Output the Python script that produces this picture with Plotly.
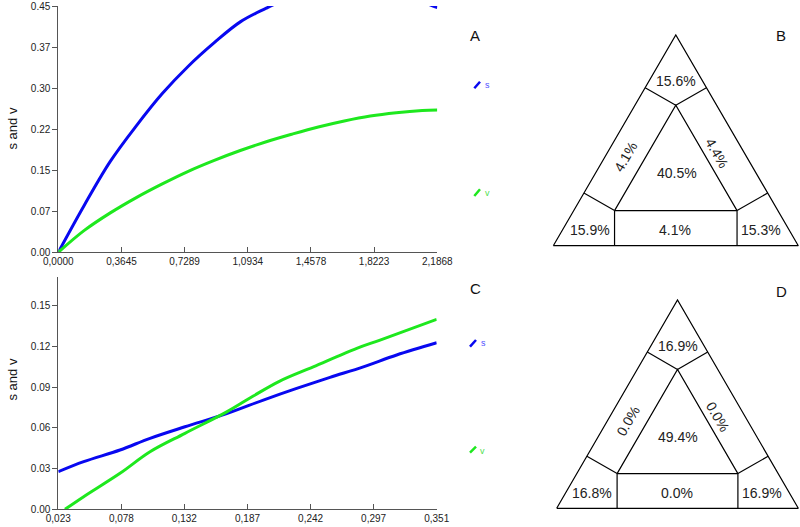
import plotly.graph_objects as go

# ---------------- data ----------------
# Panel A
a_s_x = [0, 0.15, 0.30, 0.45, 0.60, 0.75, 0.90, 1.05, 1.20, 1.35, 1.50, 1.65, 1.80, 1.95, 2.10, 2.1868]
a_s_y = [0, 0.086, 0.166, 0.231, 0.290, 0.340, 0.383, 0.421, 0.446, 0.468, 0.484, 0.493, 0.493, 0.482, 0.458, 0.447]
a_v_x = [0, 0.15, 0.30, 0.45, 0.60, 0.75, 0.90, 1.05, 1.20, 1.35, 1.50, 1.65, 1.80, 1.95, 2.10, 2.1868]
a_v_y = [0, 0.040, 0.072, 0.100, 0.125, 0.148, 0.168, 0.186, 0.202, 0.216, 0.229, 0.240, 0.249, 0.255, 0.259, 0.260]
a_xtick_vals = [0, 0.3645, 0.7289, 1.0934, 1.4578, 1.8223, 2.1868]
a_xtick_text = ["0,0000", "0,3645", "0,7289", "1,0934", "1,4578", "1,8223", "2,1868"]
a_ytick_vals = [0, 0.075, 0.15, 0.225, 0.30, 0.375, 0.45]
a_ytick_text = ["0.00", "0.07", "0.15", "0.22", "0.30", "0.37", "0.45"]

# Panel C
c_s_x = [0.023, 0.045, 0.0765, 0.1025, 0.1328, 0.169, 0.2007, 0.2296, 0.2585, 0.2874, 0.3163, 0.351]
c_s_y = [0.0277, 0.0351, 0.0437, 0.0523, 0.0608, 0.0705, 0.0805, 0.0891, 0.0972, 0.1050, 0.1137, 0.1227]
c_v_x = [0.0288, 0.045, 0.0765, 0.1025, 0.1328, 0.169, 0.192, 0.215, 0.244, 0.2817, 0.3019, 0.351]
c_v_y = [0.0, 0.0093, 0.0265, 0.0424, 0.0560, 0.0718, 0.0835, 0.0945, 0.1050, 0.1186, 0.1247, 0.1400]
c_xtick_vals = [0.023, 0.0777, 0.1323, 0.187, 0.2417, 0.2963, 0.351]
c_xtick_text = ["0,023", "0,078", "0,132", "0,187", "0,242", "0,297", "0,351"]
c_ytick_vals = [0, 0.03, 0.06, 0.09, 0.12, 0.15]
c_ytick_text = ["0.00", "0.03", "0.06", "0.09", "0.12", "0.15"]

# Triangle percentages: top, left side, right side, centre, bottom-left, bottom, bottom-right
b_pct = [15.6, 4.1, 4.4, 40.5, 15.9, 4.1, 15.3]
d_pct = [16.9, 0.0, 0.0, 49.4, 16.8, 0.0, 16.9]

# ---------------- styling / layout helpers ----------------
W, H = 800, 527
FONT = "Liberation Sans, Arial, sans-serif"
BLUE = "#0808f0"
GREEN = "#1ee81e"
AXC = "#555555"
TICKC = "#222222"


def fx(px):
    return px / W


def fy(py):
    return 1 - py / H


fig = go.Figure()

# Panel A traces
fig.add_trace(go.Scatter(x=a_s_x, y=a_s_y, mode="lines", line=dict(color=BLUE, width=3, shape="spline"),
                         xaxis="x", yaxis="y", showlegend=False, hoverinfo="skip"))
fig.add_trace(go.Scatter(x=a_v_x, y=a_v_y, mode="lines", line=dict(color=GREEN, width=3, shape="spline"),
                         xaxis="x", yaxis="y", showlegend=False, hoverinfo="skip"))
# Panel C traces
fig.add_trace(go.Scatter(x=c_s_x, y=c_s_y, mode="lines", line=dict(color=BLUE, width=3, shape="spline"),
                         xaxis="x2", yaxis="y2", showlegend=False, hoverinfo="skip"))
fig.add_trace(go.Scatter(x=c_v_x, y=c_v_y, mode="lines", line=dict(color=GREEN, width=3, shape="spline"),
                         xaxis="x2", yaxis="y2", showlegend=False, hoverinfo="skip"))

# Triangle geometry in normalised units (outer triangle base 0..1, apex height 1)
outer = [(0, 0), (1, 0), (0.5, 1)]
inner = [(0.25, 1 / 6), (0.75, 1 / 6), (0.5, 2 / 3)]
connectors = [
    (inner[2], (0.375, 0.75)), (inner[2], (0.625, 0.75)),
    (inner[0], (0.125, 0.25)), (inner[1], (0.875, 0.25)),
    (inner[0], (0.25, 0)), (inner[1], (0.75, 0)),
]
label_pos = [(0.5, 0.78), (0.295, 0.42), (0.668, 0.44), (0.503, 0.343),
             (0.148, 0.073), (0.497, 0.073), (0.848, 0.073)]
label_angle = [0, -60, 60, 0, 0, 0, 0]


def tri_segments():
    xs, ys = [], []
    for poly in (outer, inner):
        for p in poly + [poly[0]]:
            xs.append(p[0]); ys.append(p[1])
        xs.append(None); ys.append(None)
    for a, b in connectors:
        xs += [a[0], b[0], None]
        ys += [a[1], b[1], None]
    return xs, ys


tx, ty = tri_segments()
annotations = []
for ax_id, pct in (("3", b_pct), ("4", d_pct)):
    fig.add_trace(go.Scatter(x=tx, y=ty, mode="lines", line=dict(color="black", width=1.2),
                             xaxis="x" + ax_id, yaxis="y" + ax_id, showlegend=False, hoverinfo="skip"))
    for (lx, ly), ang, v in zip(label_pos, label_angle, pct):
        annotations.append(dict(x=lx, y=ly, xref="x" + ax_id, yref="y" + ax_id, text=f"{v:.1f}%",
                                showarrow=False, textangle=ang,
                                font=dict(family=FONT, size=14, color="#222222")))

# Pixel boxes of each panel
boxA = dict(x0=58.3, x1=437.3, y0=6, y1=252.3)
boxC = dict(x0=58.3, x1=436.7, y0=276.7, y1=509.3)
boxB = dict(x0=553.3, x1=798.3, y0=35, y1=245.7)
boxD = dict(x0=556.7, x1=798.3, y0=300, y1=508.3)
PADPX = 1.5  # pixels of padding around triangle boxes, so outline is not clipped


def dom_x(b):
    return [fx(b["x0"]), fx(b["x1"])]


def dom_y(b):
    return [fy(b["y1"]), fy(b["y0"])]


def tri_axes(b):
    """Hidden axes whose unit box [0,1]x[0,1] maps onto pixel box b, padded a little."""
    px0 = max(0.0, b["x0"] - PADPX); px1 = min(W, b["x1"] + PADPX)
    py0 = max(0.0, b["y0"] - PADPX); py1 = min(H, b["y1"] + PADPX)
    w = b["x1"] - b["x0"]; h = b["y1"] - b["y0"]
    xr = [(px0 - b["x0"]) / w, (px1 - b["x0"]) / w]
    yr = [(b["y1"] - py1) / h, (b["y1"] - py0) / h]
    xa = dict(visible=False, fixedrange=True, automargin=False, domain=[fx(px0), fx(px1)], range=xr)
    ya = dict(visible=False, fixedrange=True, automargin=False, domain=[fy(py1), fy(py0)], range=yr)
    return xa, ya


tickfont = dict(family=FONT, size=10, color=TICKC)
common_x = dict(showgrid=False, zeroline=False, showline=True, linecolor=AXC, linewidth=1,
                ticks="inside", ticklen=5, tickcolor=AXC, tickfont=tickfont, fixedrange=True,
                automargin=False)
common_y = dict(showgrid=False, zeroline=False, showline=True, linecolor=AXC, linewidth=1,
                ticks="outside", ticklen=5, tickcolor=AXC, tickfont=tickfont, fixedrange=True,
                automargin=False)

x3, y3 = tri_axes(boxB)
x4, y4 = tri_axes(boxD)

fig.update_layout(
    width=W, height=H,
    margin=dict(l=0, r=0, t=0, b=0, autoexpand=False),
    paper_bgcolor="white", plot_bgcolor="white",
    xaxis=dict(common_x, domain=dom_x(boxA), range=[0, 2.1868], tickvals=a_xtick_vals,
               ticktext=a_xtick_text, anchor="y"),
    yaxis=dict(common_y, domain=dom_y(boxA), range=[0, 0.45], tickvals=a_ytick_vals,
               ticktext=a_ytick_text, anchor="x"),
    xaxis2=dict(common_x, domain=dom_x(boxC), range=[0.023, 0.351], tickvals=c_xtick_vals,
                ticktext=c_xtick_text, anchor="y2"),
    yaxis2=dict(common_y, domain=dom_y(boxC), range=[0, 0.1714], tickvals=c_ytick_vals,
                ticktext=c_ytick_text, anchor="x2"),
    xaxis3=dict(x3, anchor="y3"),
    yaxis3=dict(y3, anchor="x3"),
    xaxis4=dict(x4, anchor="y4"),
    yaxis4=dict(y4, anchor="x4"),
)

# Y-axis titles
for cy in (128.5, 379.5):
    annotations.append(dict(x=fx(12), y=fy(cy), xref="paper", yref="paper", text="s and v",
                            textangle=-90, showarrow=False, xanchor="center", yanchor="middle",
                            font=dict(family=FONT, size=13, color="#111111")))

# Panel letters
for letter, px, py in (("A", 475, 35), ("B", 780.7, 35), ("C", 475, 288), ("D", 781.7, 291.7)):
    annotations.append(dict(x=fx(px), y=fy(py), xref="paper", yref="paper", text=letter,
                            showarrow=False, xanchor="center", yanchor="middle",
                            font=dict(family=FONT, size=15, color="#111111")))

# Custom legends
shapes = []
legend_items = [
    ("s", BLUE, "#5050ff", (474.3, 88.3), (480, 81.7), (487.7, 85.3)),
    ("v", GREEN, "#50e050", (474.3, 196), (480, 189.3), (487, 193.3)),
    ("s", BLUE, "#5050ff", (470, 346.7), (476, 340), (483.3, 343.3)),
    ("v", GREEN, "#50e050", (470, 452.7), (476, 446.7), (482.7, 450.7)),
]
for name, lc, tc, p0, p1, pt in legend_items:
    shapes.append(dict(type="line", xref="paper", yref="paper", x0=fx(p0[0]), y0=fy(p0[1]),
                       x1=fx(p1[0]), y1=fy(p1[1]), line=dict(color=lc, width=2.5)))
    annotations.append(dict(x=fx(pt[0]), y=fy(pt[1]), xref="paper", yref="paper", text=name,
                            showarrow=False, xanchor="center", yanchor="middle",
                            font=dict(family=FONT, size=9, color=tc)))

fig.update_layout(annotations=annotations, shapes=shapes)

# remove the default 8px page margin so the figure sits at the window's top-left corner
fig.write_html("out.html", config={"displayModeBar": False},
               post_script="document.body.style.margin='0';document.body.style.overflow='hidden';")
